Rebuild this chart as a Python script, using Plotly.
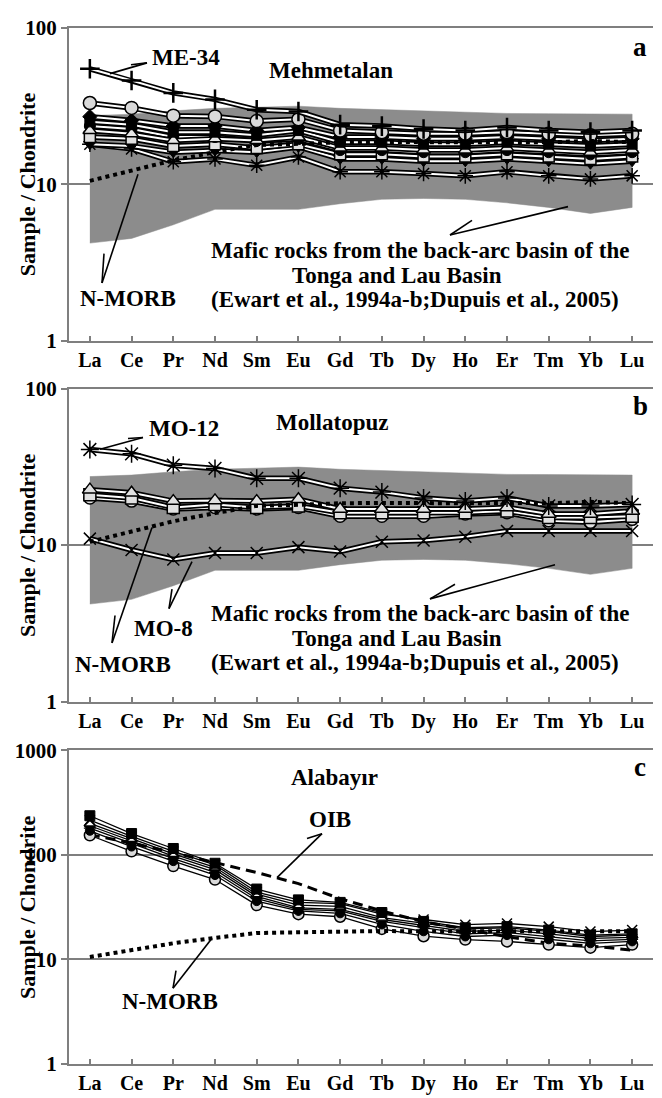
import plotly.graph_objects as go

W, H = 662, 1098
REE = ["La", "Ce", "Pr", "Nd", "Sm", "Eu", "Gd", "Tb", "Dy", "Ho", "Er", "Tm", "Yb", "Lu"]
XI = list(range(len(REE)))

# Tonga / Lau back-arc field (upper / lower envelope)
field_upper = [27.4, 28, 29.4, 30.5, 31, 31.5, 30.5, 30, 29.5, 28.8, 28.3, 28.2, 28, 28]
field_lower = [4.2, 4.5, 5.5, 6.9, 6.9, 6.9, 7.5, 8.0, 8.1, 8.0, 7.6, 7.1, 6.5, 7.1]

# N-MORB and OIB (chondrite normalised)
nmorb = [10.5, 12.2, 14.2, 16.0, 17.8, 18.1, 18.5, 18.6, 18.5, 18.5, 18.6, 18.5, 18.9, 18.5]
oib = [156, 130, 105, 84, 67.6, 53, 38, 29, 22.8, 19.4, 16.4, 14.2, 13.4, 12.2]

# Panel a - Mehmetalan
me34 = [54.6, 46, 38.3, 34.8, 29.9, 29.1, 24, 23.5, 22.5, 22, 23, 22, 21.5, 22]
a_s1 = [33, 30.7, 27.4, 27.1, 25.3, 26, 22, 21.5, 21, 21, 21.5, 21, 20.5, 21]
a_s2 = [27, 25.5, 23.5, 23.5, 22, 23, 20, 20, 19.5, 19.5, 20, 19.5, 19, 19.5]
a_s3 = [25, 24, 21.5, 21.5, 20.5, 22, 18.5, 18.5, 18, 18, 18.5, 18, 17.5, 18]
a_s4 = [22, 21, 19, 19.5, 19, 20, 17, 17, 16.5, 16.5, 17, 16.5, 16, 16.5]
a_s5 = [23.5, 22.5, 20, 20, 18.9, 19.4, 16.5, 16.5, 16, 16, 16.5, 16, 15.5, 16]
a_s6 = [20, 19.5, 17.5, 18, 17, 18, 15.5, 15.5, 15, 15, 15.5, 15, 14.5, 15]
a_s7 = [18, 17.5, 16, 16.4, 16, 17.3, 14.5, 14.5, 14, 14, 14.5, 14, 13.5, 14]
a_s8 = [18, 16.8, 13.9, 14.5, 13.2, 14.9, 12, 12, 11.7, 11.3, 12, 11.3, 10.8, 11.3]

# Panel b - Mollatopuz
mo12 = [40.8, 38.3, 32.4, 30.9, 26.7, 26.7, 23.1, 21.8, 20, 19.1, 20, 17.8, 17.8, 18.2]
b_s1 = [22.6, 21.6, 19.1, 19.3, 19.1, 19.6, 17, 17, 17, 17, 17.4, 15.8, 15.8, 16.5]
b_s2 = [21, 20, 17.4, 18.2, 17.4, 17.8, 16.1, 16.1, 16.1, 16.1, 16.5, 15, 15, 15.3]
b_s3 = [20, 19.1, 17, 17.4, 17, 17.4, 15.3, 15.3, 15.3, 15.8, 16.1, 14.3, 14, 14.6]
mo8 = [11, 9.3, 8.1, 8.9, 8.9, 9.7, 9.1, 10.5, 10.7, 11.3, 12.3, 12.3, 12.3, 12.3]

# Panel c - Alabayir
c_s1 = [237, 160, 115, 83, 47, 37, 35, 28, 23, 20, 20.5, 19, 17, 17.5]
c_s2 = [215, 150, 108, 80, 44, 35, 34, 27, 24, 21.4, 22, 20.5, 18.4, 19]
c_s3 = [200, 142, 102, 76, 42, 33, 32, 25, 22, 19.5, 20, 18.5, 16.5, 17]
c_s4 = [190, 136, 97, 72, 40, 31, 30, 24, 21, 18.5, 19, 17.5, 15.8, 16.2]
c_s5 = [180, 128, 92, 68, 38, 30, 29, 23, 20, 17.5, 18, 16.5, 15, 15.5]
c_s6 = [170, 120, 87, 64, 36, 29, 27.5, 21.5, 18.5, 16.5, 17, 15.5, 14.2, 14.8]
c_s7 = [154, 108, 78, 58, 33, 27, 25.5, 19.5, 16.6, 15.4, 14.8, 13.8, 12.9, 13.8]

FONT = "Liberation Serif"
GRAY = "#7f7f7f"
SHADE = "#8c8c8c"

fig = go.Figure()


def px_x(p):
    return p / W


def px_y(p):
    return 1 - p / H


def add_field(ax):
    fig.add_trace(go.Scatter(
        x=XI + XI[::-1], y=field_upper + field_lower[::-1],
        fill="toself", fillcolor=SHADE, mode="lines",
        line=dict(color=SHADE, width=0.5), xaxis="x" + ax, yaxis="y" + ax,
        hoverinfo="skip", showlegend=False))


def add_double(ax, y, sym, size, fill="black", lw=1.2):
    fig.add_trace(go.Scatter(x=XI, y=y, mode="lines", line=dict(color="black", width=5.5),
                             xaxis="x" + ax, yaxis="y" + ax, hoverinfo="skip", showlegend=False))
    fig.add_trace(go.Scatter(x=XI, y=y, mode="lines+markers", line=dict(color="white", width=2),
                             marker=dict(symbol=sym, size=size, color=fill,
                                         line=dict(color="black", width=lw)),
                             xaxis="x" + ax, yaxis="y" + ax, showlegend=False))


def add_thin(ax, y, sym, size, fill="black", lw=1.2):
    fig.add_trace(go.Scatter(x=XI, y=y, mode="lines+markers", line=dict(color="black", width=1.3),
                             marker=dict(symbol=sym, size=size, color=fill,
                                         line=dict(color="black", width=lw)),
                             xaxis="x" + ax, yaxis="y" + ax, showlegend=False))


def add_ref(ax, y, dash, width=4):
    fig.add_trace(go.Scatter(x=XI, y=y, mode="lines", line=dict(color="black", width=width, dash=dash),
                             xaxis="x" + ax, yaxis="y" + ax, hoverinfo="skip", showlegend=False))


# ---- panel a
add_field("")
for y, s, sz, f, lw in [
    (a_s8, "asterisk-open", 13, "black", 1.5),
    (a_s7, "triangle-down", 11, "black", 1),
    (a_s6, "square", 11, "#e0e0e0", 1.5),
    (a_s5, "circle", 11, "black", 1),
    (a_s4, "triangle-up", 12, "#e6e6e6", 1.5),
    (a_s3, "square", 10, "black", 1),
    (a_s2, "diamond", 11, "black", 1),
    (a_s1, "circle", 13, "#d9d9d9", 1.5),
    (me34, "cross-thin-open", 14, "black", 2.5),
]:
    add_double("", y, s, sz, f, lw)
add_ref("", nmorb, "dot")

# ---- panel b
add_field("2")
for y, s, sz, f, lw in [
    (mo8, "x-thin-open", 12, "black", 1.5),
    (b_s3, "circle", 12, "#e0e0e0", 1.5),
    (b_s2, "square", 12, "#e0e0e0", 1.5),
    (b_s1, "triangle-up", 13, "#e0e0e0", 1.5),
    (mo12, "asterisk-open", 15, "black", 1.5),
]:
    add_double("2", y, s, sz, f, lw)
add_ref("2", nmorb, "dot")

# ---- panel c
add_ref("3", oib, "10px,6px", 3)
for y, s, sz, f, lw in [
    (c_s7, "circle", 11, "#d9d9d9", 1.5),
    (c_s6, "circle", 9, "black", 1),
    (c_s5, "asterisk-open", 10, "black", 1.2),
    (c_s4, "diamond", 9, "black", 1),
    (c_s3, "triangle-up", 10, "white", 1.2),
    (c_s2, "x-thin-open", 10, "black", 1.5),
    (c_s1, "square", 10, "black", 1),
]:
    add_thin("3", y, s, sz, f, lw)
add_ref("3", nmorb, "dot")

# ---- axes
xdom = [69 / W, 653 / W]
ydoms = {"": (16, 336), "2": (385, 705), "3": (755, 1075)}
yranges = {"": [0, 2], "2": [0, 2], "3": [0, 3]}
ytv = {"": [1, 10, 100], "2": [1, 10, 100], "3": [1, 10, 100, 1000]}

lay = dict(width=W, height=H, margin=dict(l=0, r=0, t=0, b=0),
           paper_bgcolor="white", plot_bgcolor="white", showlegend=False)
for ax in ["", "2", "3"]:
    top, bot = ydoms[ax]
    lay["xaxis" + ax] = dict(
        domain=xdom, range=[-0.5, 13.5], anchor="y" + ax,
        tickvals=XI, ticktext=REE, ticks="inside", ticklen=5, tickwidth=1.5, tickcolor=GRAY,
        showline=True, linecolor=GRAY, linewidth=2, mirror=True, showgrid=False, zeroline=False,
        tickfont=dict(family=FONT, size=20, color="black", weight="bold"))
    lay["yaxis" + ax] = dict(
        domain=[px_y(bot), px_y(top)], type="log", range=yranges[ax], anchor="x" + ax,
        tickvals=ytv[ax], ticktext=[str(v) for v in ytv[ax]],
        ticks="outside", ticklen=6, tickwidth=2, tickcolor=GRAY,
        showline=True, linecolor=GRAY, linewidth=2, showgrid=True, gridcolor=GRAY, gridwidth=2,
        zeroline=False, tickfont=dict(family=FONT, size=21, color="black", weight="bold"))
fig.update_layout(**lay)

# ---- texts
def txt(s, x, y, size=23, xanchor="center", angle=0):
    fig.add_annotation(text=s, x=px_x(x), y=px_y(y), xref="paper", yref="paper",
                       xanchor=xanchor, yanchor="middle", showarrow=False, textangle=angle,
                       font=dict(family=FONT, size=size, color="black", weight="bold"))


def seg(x0, y0, x1, y1):
    fig.add_shape(type="line", xref="paper", yref="paper",
                  x0=px_x(x0), y0=px_y(y0), x1=px_x(x1), y1=px_y(y1),
                  line=dict(color="black", width=1.6))


for ax in ["", "2", "3"]:
    top, bot = ydoms[ax]
    txt("Sample / Chondrite", 27, (top + bot) / 2, size=22, angle=-90)

MAFIC = ["Mafic rocks from the back-arc basin of the", "Tonga and Lau Basin",
         "(Ewart et al., 1994a-b;Dupuis et al., 2005)"]

# panel a
txt("ME-34", 186, 47)
txt("Mehmetalan", 331, 60)
txt("a", 640, 36, size=27)
txt(MAFIC[0], 209, 244, xanchor="left")
txt(MAFIC[1], 290, 269, xanchor="left")
txt(MAFIC[2], 209, 294, xanchor="left")
txt("N-MORB", 128, 293)
seg(110, 63, 147, 52); seg(147, 52, 131, 54)
seg(102, 277, 138, 166); seg(102, 277, 104, 247)
seg(450, 228, 568, 199); seg(450, 228, 472, 213)

# panel b
txt("MO-12", 184, 426)
txt("Mollatopuz", 332, 420)
txt("b", 640, 403, size=27)
txt(MAFIC[0], 209, 615, xanchor="left")
txt(MAFIC[1], 290, 640, xanchor="left")
txt(MAFIC[2], 209, 665, xanchor="left")
txt("N-MORB", 123, 667)
txt("MO-8", 163, 630)
seg(100, 447, 143, 435); seg(143, 435, 128, 436)
seg(112, 645, 152, 527); seg(112, 645, 115, 617)
seg(169, 610, 192, 562); seg(169, 610, 172, 590)
seg(430, 600, 555, 565); seg(430, 600, 455, 585)

# panel c
txt("Alabayır", 334, 783)
txt("c", 640, 772, size=27)
txt("OIB", 330, 826)
txt("N-MORB", 170, 1012)
seg(277, 885, 322, 840); seg(322, 840, 307, 845)
seg(173, 998, 212, 947); seg(173, 998, 176, 980)

fig.write_html("out.html")
